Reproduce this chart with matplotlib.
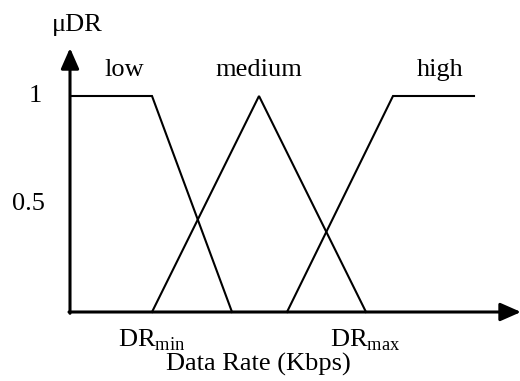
import matplotlib.pyplot as plt

plt.rcParams['font.family'] = ['Liberation Serif', 'DejaVu Serif']
plt.rcParams['mathtext.fontset'] = 'custom'
plt.rcParams['mathtext.rm'] = 'Liberation Serif'

# membership functions (x in arbitrary data-rate units, y = membership)
low_x = [2, 82, 162]
low_y = [1, 1, 0]
medium_x = [82, 189, 296]
medium_y = [0, 1, 0]
high_x = [217, 323, 404]
high_y = [0, 1, 1]

set_names = ['low', 'medium', 'high']
set_label_x = [54, 189, 370]
dr_min = 82
dr_max = 296

fig = plt.figure(figsize=(5.2, 3.81), dpi=100)
ax = fig.add_axes([0, 0, 1, 1])
ax.set_xlim(-70, 450)
ax.set_ylim(-69 / 216, 312 / 216)
ax.axis('off')

# axes with arrows
arrow = dict(arrowstyle='-|>,head_length=1.25,head_width=0.55',
             lw=2.2, color='black', shrinkA=0, shrinkB=0)
ax.annotate('', xy=(451, 0), xytext=(-1, 0), arrowprops=arrow,
            annotation_clip=False)
ax.annotate('', xy=(0, 1.222), xytext=(0, -0.006), arrowprops=arrow,
            annotation_clip=False)

for xs, ys in [(low_x, low_y), (medium_x, medium_y), (high_x, high_y)]:
    ax.plot(xs, ys, color='black', lw=1.5, solid_joinstyle='miter')

fs = 19
for name, xpos in zip(set_names, set_label_x):
    ax.text(xpos, 1.12, name, fontsize=fs, ha='center', va='center')

ax.text(-28, 1, '1', fontsize=fs, ha='right', va='center')
ax.text(-25, 0.5, '0.5', fontsize=fs, ha='right', va='center')

ax.text(7, 1.33, 'μDR', fontsize=fs, ha='center', va='center')
ax.text(dr_min, -0.13, r'DR$_{\mathrm{min}}$', fontsize=fs, ha='center', va='center')
ax.text(dr_max - 1, -0.13, r'DR$_{\mathrm{max}}$', fontsize=fs, ha='center', va='center')
ax.text(188, -0.245, 'Data Rate (Kbps)', fontsize=fs, ha='center', va='center')

fig.savefig('out.png', dpi=100)
